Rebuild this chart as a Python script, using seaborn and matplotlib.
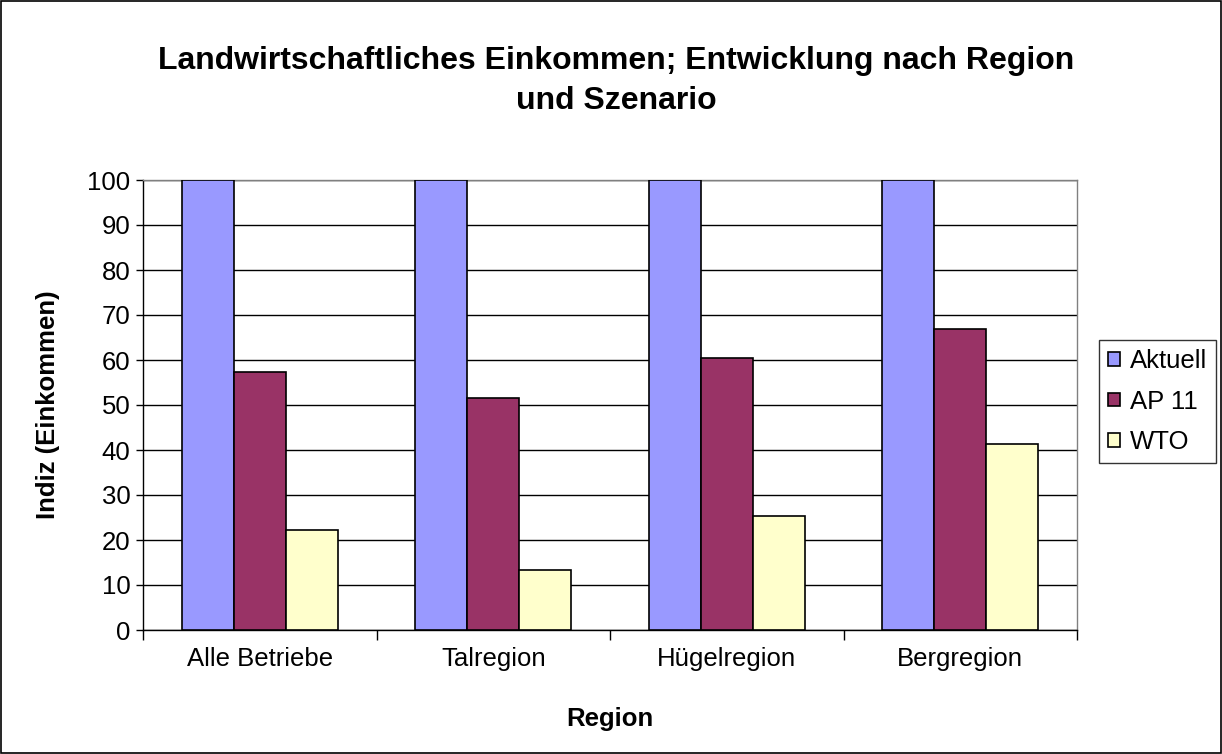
import matplotlib
matplotlib.use("Agg")
import matplotlib.pyplot as plt
import seaborn as sns
import pandas as pd
from matplotlib.patches import Rectangle

regions = ["Alle Betriebe", "Talregion", "Hügelregion", "Bergregion"]
scenarios = ["Aktuell", "AP 11", "WTO"]
aktuell = [100, 100, 100, 100]
ap11 = [57.3, 51.5, 60.4, 67.0]
wto = [22.2, 13.3, 25.3, 41.3]
colors = ["#9999FF", "#993366", "#FFFFCC"]
yticks = [0, 10, 20, 30, 40, 50, 60, 70, 80, 90, 100]

rows = []
for s, vals in zip(scenarios, [aktuell, ap11, wto]):
    for r, v in zip(regions, vals):
        rows.append({"Region": r, "Szenario": s, "Wert": v})
df = pd.DataFrame(rows)

sns.set_style("white")
plt.rcParams['font.family'] = ['Liberation Sans', 'DejaVu Sans']
plt.rcParams['text.color'] = 'black'
plt.rcParams['axes.labelcolor'] = 'black'
plt.rcParams['xtick.color'] = 'black'
plt.rcParams['ytick.color'] = 'black'

FS = 18.5

fig = plt.figure(figsize=(12.22, 7.54), dpi=100)
ax = fig.add_axes([143/1222, 124/754, 934/1222, 450/754])

sns.barplot(data=df, x="Region", y="Wert", hue="Szenario", order=regions,
            hue_order=scenarios, palette=colors, width=0.667,
            edgecolor="black", linewidth=1.2, saturation=1, ax=ax, zorder=3)

ax.set_ylim(0, 100)
ax.set_xlim(-0.5, 3.5)
ax.set_yticks(yticks)
ax.set_yticklabels([str(t) for t in yticks], fontsize=FS)
ax.yaxis.grid(True, color="black", linewidth=1.0, zorder=0)
ax.set_axisbelow(True)
ax.tick_params(axis="y", direction="out", length=5, width=1, left=True, color="black", pad=4)
ax.set_xticks(range(len(regions)))
ax.set_xticklabels(regions, fontsize=FS)
ax.tick_params(axis="x", which="major", length=0, pad=12)
ax.set_xticks([-0.5, 0.5, 1.5, 2.5, 3.5], minor=True)
ax.tick_params(axis="x", which="minor", direction="out", length=7, width=1, bottom=True, color="black")

for side in ["left", "bottom"]:
    ax.spines[side].set_color("black")
    ax.spines[side].set_linewidth(1.0)
for side in ["top", "right"]:
    ax.spines[side].set_color("#808080")
    ax.spines[side].set_linewidth(1.0)

ax.set_xlabel("Region", fontsize=FS, fontweight="bold", labelpad=26)
ax.set_ylabel("Indiz (Einkommen)", fontsize=FS, fontweight="bold", labelpad=20)

fig.text(616.5/1222, 1 - 109/754,
         "Landwirtschaftliches Einkommen; Entwicklung nach Region\nund Szenario",
         ha="center", va="baseline", multialignment="center",
         fontsize=23, fontweight="bold", linespacing=1.42)

handles, labels = ax.get_legend_handles_labels()
ax.legend(handles, labels, loc="upper left", bbox_to_anchor=(1099/1222, 1 - 340/754),
          bbox_transform=fig.transFigure, frameon=True, fancybox=False,
          edgecolor="black", fontsize=FS, handlelength=0.45, handleheight=0.45,
          handletextpad=0.4, labelspacing=0.65, borderpad=0.35, borderaxespad=0)
ax.get_legend().get_frame().set_linewidth(1.0)

fig.patches.append(Rectangle((0.001, 0.001), 0.998, 0.998, transform=fig.transFigure,
                             fill=False, edgecolor="black", linewidth=1.2))

fig.savefig("out.png", dpi=100, facecolor="white")
